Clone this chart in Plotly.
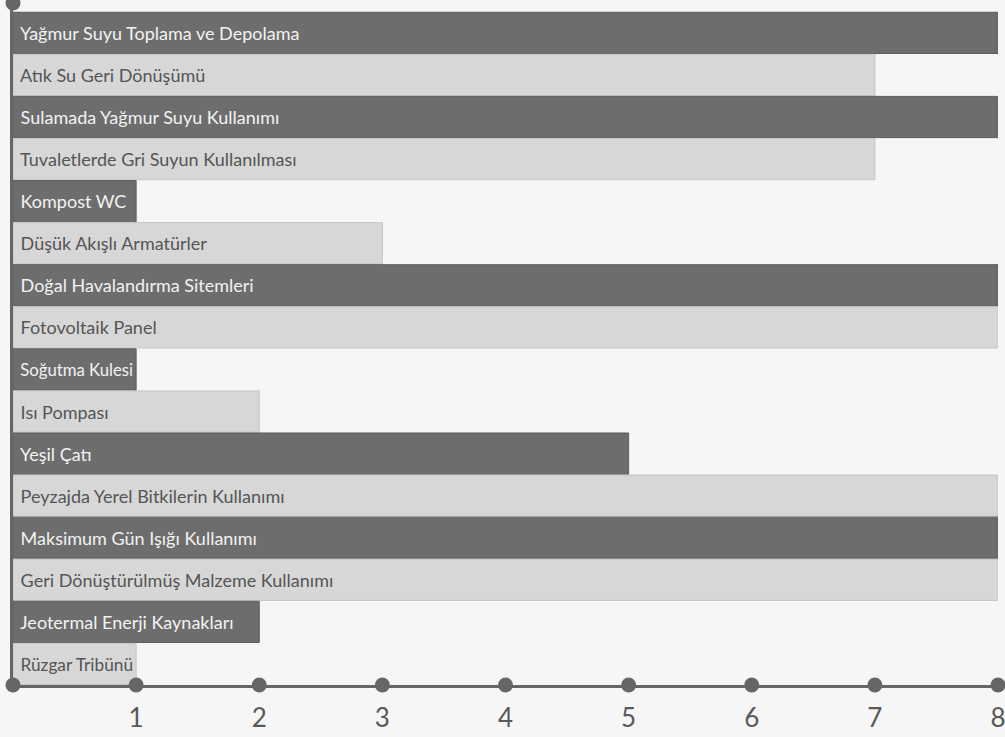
import plotly.graph_objects as go

categories = [
    "Yağmur Suyu Toplama ve Depolama",
    "Atık Su Geri Dönüşümü",
    "Sulamada Yağmur Suyu Kullanımı",
    "Tuvaletlerde Gri Suyun Kullanılması",
    "Kompost WC",
    "Düşük Akışlı Armatürler",
    "Doğal Havalandırma Sitemleri",
    "Fotovoltaik Panel",
    "Soğutma Kulesi",
    "Isı Pompası",
    "Yeşil Çatı",
    "Peyzajda Yerel Bitkilerin Kullanımı",
    "Maksimum Gün Işığı Kullanımı",
    "Geri Dönüştürülmüş Malzeme Kullanımı",
    "Jeotermal Enerji Kaynakları",
    "Rüzgar Tribünü",
]
values = [8, 7, 8, 7, 1, 3, 8, 8, 1, 2, 5, 8, 8, 8, 2, 1]
tick_values = [1, 2, 3, 4, 5, 6, 7, 8]

DARK = "#6d6d6d"
LIGHT = "#d7d7d7"
AXIS = "#666666"
FONT = "Lato, Open Sans, sans-serif"

n = len(categories)
positions = list(range(n))
colors = [DARK if i % 2 == 0 else LIGHT for i in positions]
text_colors = ["#f2f2f2" if i % 2 == 0 else "#555555" for i in positions]
line_colors = ["#5e5e5e" if i % 2 == 0 else "#c4c4c4" for i in positions]

y_bottom = n - 0.5
y_top = -0.71

fig = go.Figure()

fig.add_trace(go.Bar(
    x=values,
    y=positions,
    orientation="h",
    marker=dict(color=colors, line=dict(color=line_colors, width=1)),
    text=["\u00a0" + c for c in categories],
    textposition="inside",
    insidetextanchor="start",
    constraintext="inside",
    textfont=dict(family=FONT, size=18, color=text_colors),
    hoverinfo="skip",
    showlegend=False,
))

# dots along the value axis
fig.add_trace(go.Scatter(
    x=[0] + tick_values,
    y=[y_bottom] * (len(tick_values) + 1),
    mode="markers",
    marker=dict(size=15, color=AXIS),
    cliponaxis=False,
    hoverinfo="skip",
    showlegend=False,
))

# dot capping the category axis
fig.add_trace(go.Scatter(
    x=[0],
    y=[y_top],
    mode="markers",
    marker=dict(size=15, color=AXIS),
    cliponaxis=False,
    hoverinfo="skip",
    showlegend=False,
))

fig.update_layout(
    width=1005,
    height=737,
    margin=dict(l=13, r=7, t=3, b=52),
    paper_bgcolor="#f6f6f6",
    plot_bgcolor="#f6f6f6",
    bargap=0.02,
    xaxis=dict(
        range=[0, 8],
        tickvals=tick_values,
        ticktext=[str(v) for v in tick_values],
        showgrid=False,
        zeroline=False,
        showline=True,
        linecolor=AXIS,
        linewidth=3,
        ticks="outside",
        ticklen=8,
        tickcolor="rgba(0,0,0,0)",
        tickfont=dict(family=FONT, size=26, color="#595959"),
        ticklabeloverflow="allow",
        automargin=False,
    ),
    yaxis=dict(
        range=[y_bottom, y_top],
        showgrid=False,
        zeroline=False,
        showticklabels=False,
        showline=True,
        linecolor=AXIS,
        linewidth=3,
        automargin=False,
    ),
)

fig.write_html("out.html")
